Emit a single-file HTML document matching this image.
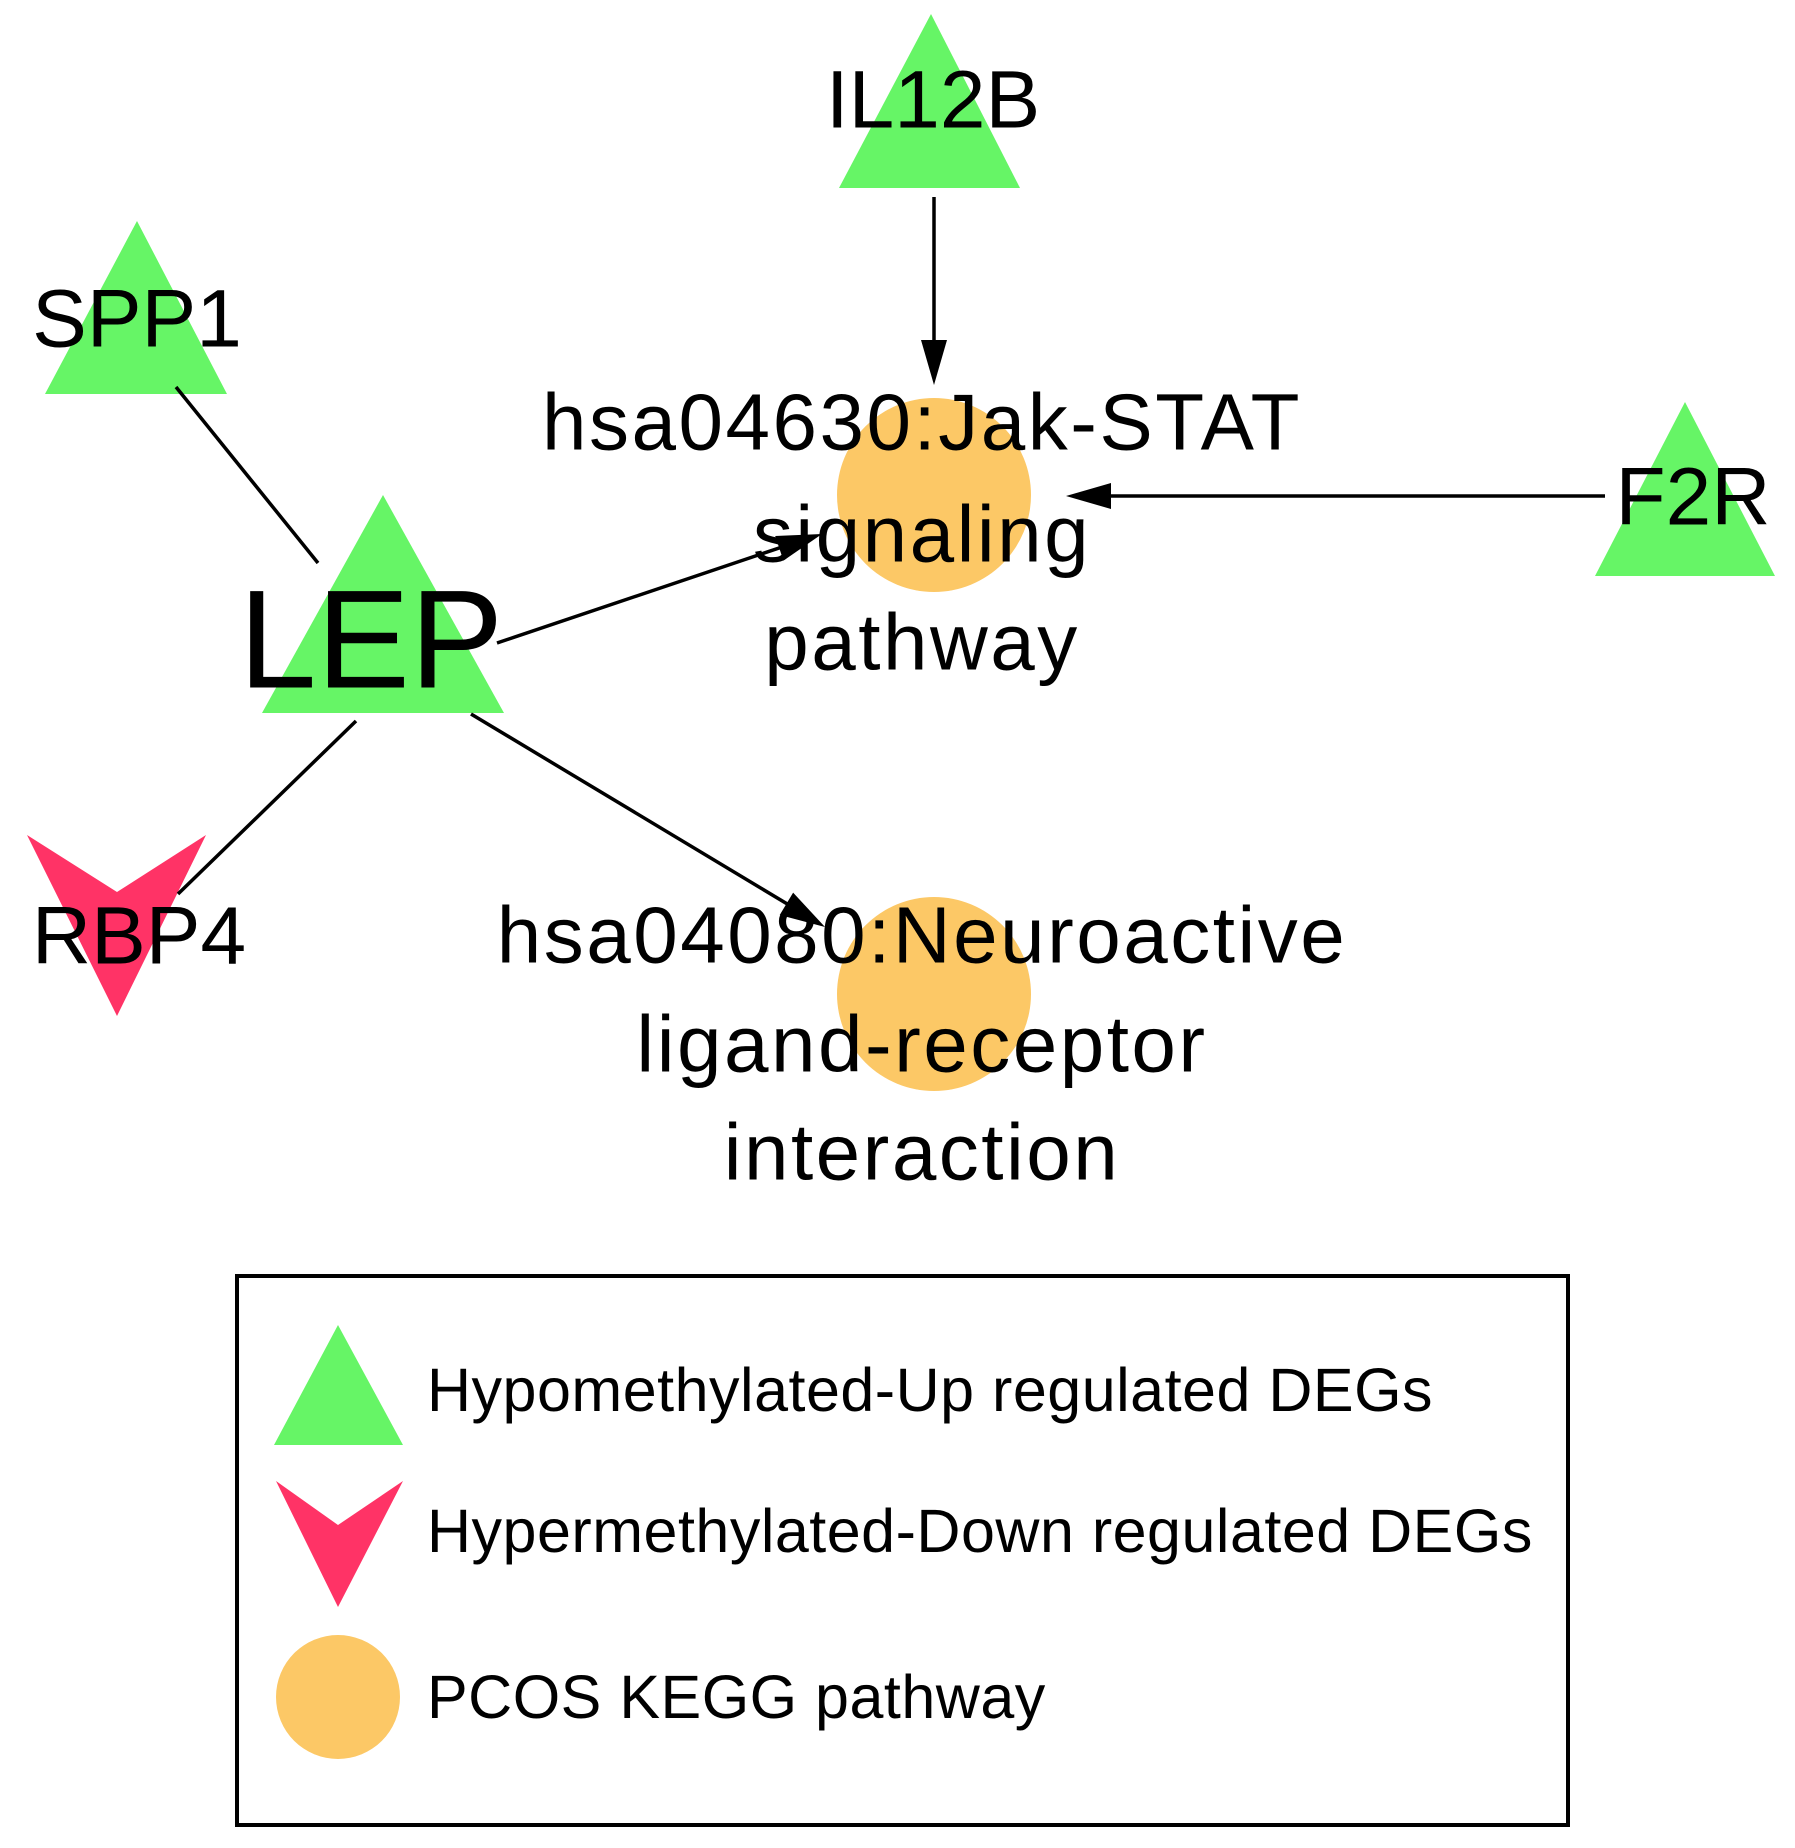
<!DOCTYPE html>
<html><head><style>html,body{margin:0;padding:0;background:#fff}svg{display:block}</style></head>
<body>
<svg width="1795" height="1848" viewBox="0 0 1795 1848" xmlns="http://www.w3.org/2000/svg" font-family="Liberation Sans, Arial, sans-serif">
<g transform="translate(4,0)">
<!-- nodes -->
<circle cx="930" cy="495" r="97" fill="#fcc866"/>
<circle cx="930" cy="994" r="97" fill="#fcc866"/>
<polygon points="927,14 835,188 1016,188" fill="#66f566"/>
<polygon points="133,221 41,394 223,394" fill="#66f566"/>
<polygon points="379,495 258,713 500,713" fill="#66f566"/>
<polygon points="1681,402 1591,576 1771,576" fill="#66f566"/>
<polygon points="23,835 113,892 202,835 113,1016" fill="#ff3366"/>
<!-- edges -->
<g stroke="#000" stroke-width="3.5" fill="none">
<line x1="172" y1="387" x2="314" y2="563"/>
<line x1="352" y1="721" x2="174" y2="894"/>
<line x1="493" y1="643" x2="790" y2="543"/>
<line x1="930" y1="197" x2="930" y2="345"/>
<line x1="1601" y1="496" x2="1100" y2="496"/>
<line x1="467" y1="714" x2="790" y2="908"/>
</g>
<polygon points="930,385 917,340 943,340" fill="#000"/>
<polygon points="1062,496 1107,483 1107,509" fill="#000"/>
<g transform="translate(818,534) rotate(-18.5)"><polygon points="0,0 -45,-13 -45,13" fill="#000"/></g>
<g transform="translate(821,927) rotate(31)"><polygon points="0,0 -45,-13 -45,13" fill="#000"/></g>
<!-- labels -->
<g fill="#000" text-anchor="middle" dominant-baseline="central">
<text x="929" y="100" font-size="82">IL12B</text>
<text x="133" y="319" font-size="82">SPP1</text>
<text x="367" y="639" font-size="140">LEP</text>
<text x="1689" y="497" font-size="82">F2R</text>
<text x="135" y="936" font-size="82">RBP4</text>
<g font-size="80" letter-spacing="2.5">
<text x="918" y="422">hsa04630:Jak-STAT</text>
<text x="918" y="534">signaling</text>
<text x="918" y="642">pathway</text>
<text x="918" y="935">hsa04080:Neuroactive</text>
<text x="918" y="1044">ligand-receptor</text>
<text x="918" y="1152">interaction</text>
</g>
</g>
<!-- legend -->
<rect x="233" y="1276" width="1331" height="549" fill="none" stroke="#000" stroke-width="4"/>
<polygon points="334,1325 270,1445 399,1445" fill="#66f566"/>
<polygon points="272,1481 334,1525 399,1481 334,1607" fill="#ff3366"/>
<circle cx="334" cy="1697" r="62" fill="#fcc866"/>
<g font-size="61" fill="#000" dominant-baseline="central" letter-spacing="0.5">
<text x="423" y="1390">Hypomethylated-Up regulated DEGs</text>
<text x="423" y="1531">Hypermethylated-Down regulated DEGs</text>
<text x="423" y="1697">PCOS KEGG pathway</text>
</g>
</g>
</svg>
</body></html>
